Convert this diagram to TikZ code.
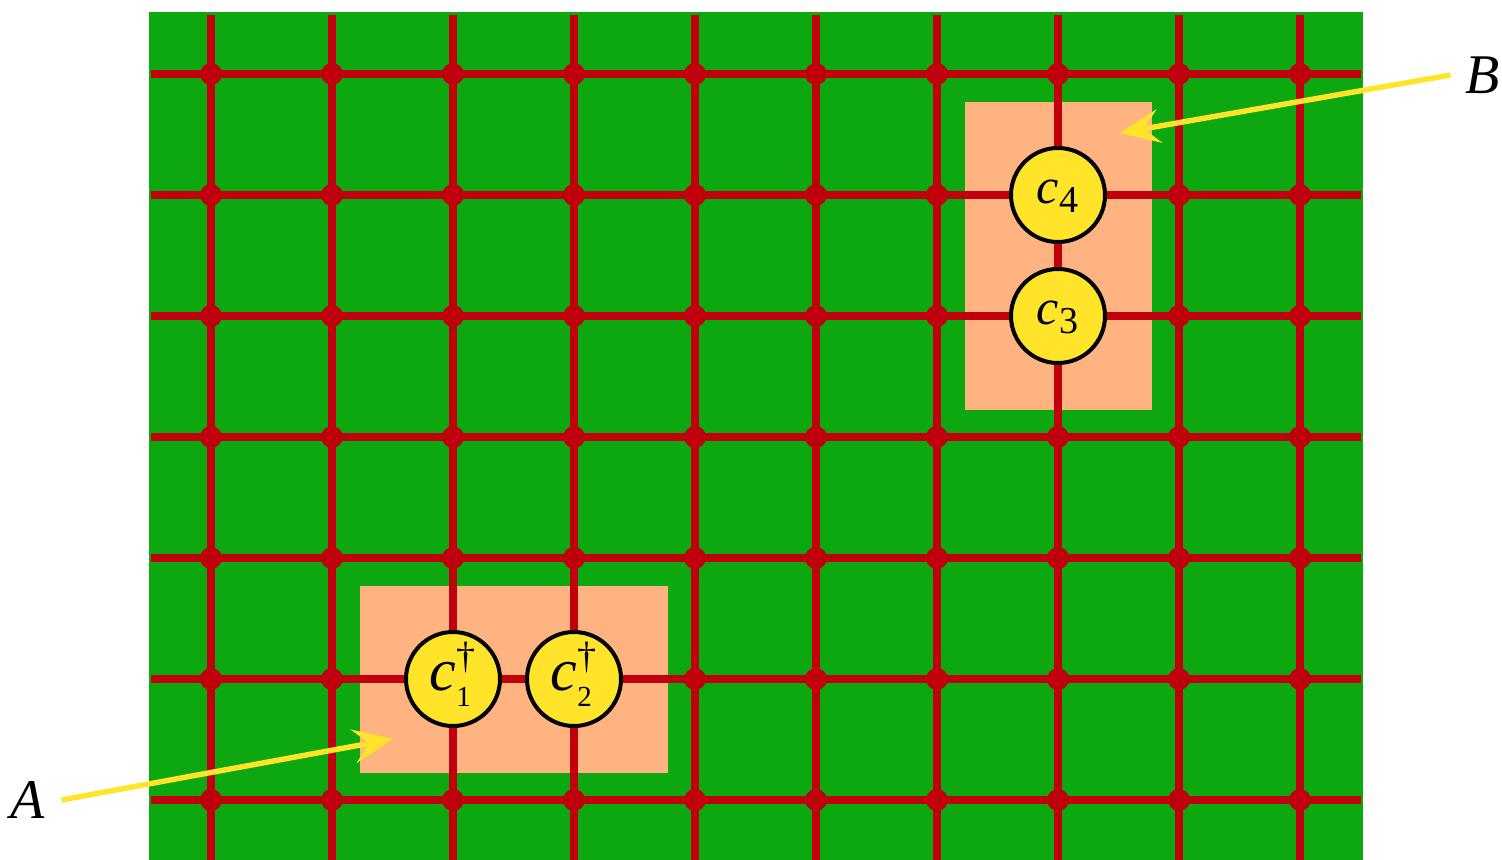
\documentclass[tikz,border=0pt]{standalone}
\usepackage{fontspec}
\setmainfont{Liberation Serif}
\usetikzlibrary{arrows.meta}
\definecolor{bggreen}{RGB}{13,168,16}
\definecolor{gridred}{RGB}{192,0,13}
\definecolor{patch}{RGB}{255,179,128}
\definecolor{ferm}{RGB}{255,228,42}
\newcommand{\cfour}[1]{{\fontsize{25}{25}\selectfont\rule[-3.5pt]{0pt}{1pt}$\mbox{\itshape c}_{\smash{\raisebox{-0.8pt}{\fontsize{19}{19}\selectfont #1}}}$}}
\newcommand{\cdag}[1]{{\fontsize{30}{30}\selectfont\rule{0pt}{18pt}$\mbox{\itshape c}^{\smash{\raisebox{2pt}{\fontsize{19}{19}\selectfont †}}}_{\smash{\raisebox{-1.6pt}{\fontsize{14.5}{14.5}\selectfont #1}}}$}}
\begin{document}
\begin{tikzpicture}[x=0.5pt,y=-0.5pt,
  gridline/.style={draw=gridred,line width=4pt},
  site/.style={circle,fill=gridred,inner sep=0pt,minimum size=11pt},
  fermion/.style={circle,draw=black,fill=ferm,line width=2pt,minimum size=47pt,inner sep=0pt},
  pointer/.style={draw=ferm,line width=2.7pt,-{Stealth[length=20pt,width=17pt,inset=8pt]}},
  lab/.style={font=\fontsize{28}{30}\selectfont\itshape,inner sep=0pt}]
\useasboundingbox (0,0) rectangle (1502,860);
% background
\fill[bggreen] (149,12) rectangle (1363,860);
% patches
\fill[patch] (965,102) rectangle (1152,410);
\fill[patch] (360,586) rectangle (668,773);
% grid lines
\foreach \i in {0,...,9} {
  \draw[gridline] ({211+121*\i},15) -- ({211+121*\i},860);
}
\foreach \j in {0,...,6} {
  \draw[gridline] (151,{74+121*\j}) -- (1361,{74+121*\j});
}
% sites
\foreach \i in {0,...,9} {
  \foreach \j in {0,...,6} {
    \node[site] (s\i-\j) at ({211+121*\i},{74+121*\j}) {};
  }
}
% fermions
\node[fermion] (c4) at (1058,195) {\cfour{4}};
\node[fermion] (c3) at (1058,316) {\cfour{3}};
\node[fermion] (c1) at (453,679) {\cdag{1}};
\node[fermion] (c2) at (574,679) {\cdag{2}};
% labels and pointers
\node[lab] (B) at (1483,75) {B};
\node[lab] (A) at (28,800) {A};
\coordinate (Btip) at (1120,133);
\coordinate (Atip) at (393,739);
\draw[pointer] ([xshift=-7.5pt]B.west) -- (Btip);
\draw[pointer] ([xshift=8pt]A.east) -- (Atip);
\end{tikzpicture}
\end{document}
